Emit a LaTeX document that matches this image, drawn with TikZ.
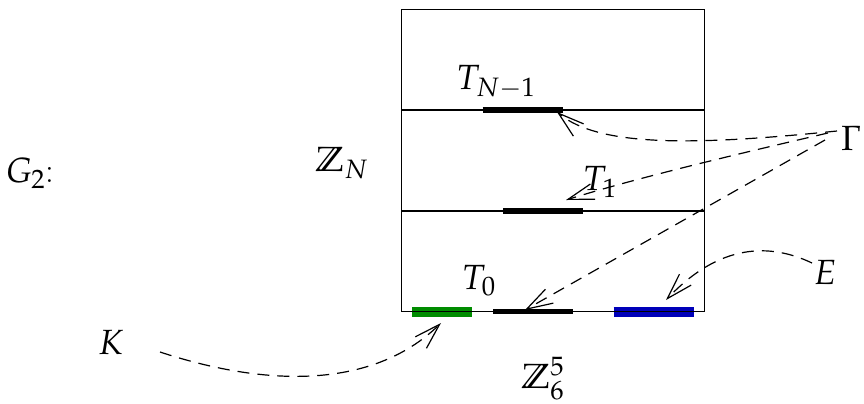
\documentclass[tikz,border=0pt]{standalone}
\usepackage{amssymb}
\usepackage{mathpazo}
\usetikzlibrary{arrows.meta}
\definecolor{bargreen}{RGB}{0,140,0}
\definecolor{barblue}{RGB}{0,0,185}
\begin{document}
\begin{tikzpicture}[x=0.5pt,y=-0.5pt,
  lbl/.style={inner sep=0pt,font=\fontsize{17.5}{20}\selectfont},
  frame/.style={line width=0.7pt},
  blackbar/.style={line width=2.6pt,black},
  greenbar/.style={line width=5pt,bargreen},
  bluebar/.style={line width=5pt,barblue},
  link/.style={line width=0.6pt,dash pattern=on 6pt off 4pt,
    -{Straight Barb[length=13pt,width=8pt,line width=0.6pt]}}]
\useasboundingbox (0,0) rectangle (864,403);
% bars
\draw[greenbar] (412,311.7) -- (472,311.7);
\draw[bluebar] (613.5,311.7) -- (694,311.7);
\draw[blackbar] (482.5,110) coordinate (tn1a) -- (562.5,110) coordinate (tn1b);
\draw[blackbar] (503,211) coordinate (t1a) -- (583,211) coordinate (t1b);
\draw[blackbar] (493,311.7) coordinate (t0a) -- (573,311.7) coordinate (t0b);
% frame
\draw[frame] (401.7,9.3) rectangle (704.3,311.7);
\draw[frame] (401.7,110) -- (704.3,110);
\draw[frame] (401.7,211) -- (704.3,211);
% labels
\node[lbl] (g2) at (30,173) {$G_2$:};
\node[lbl] (zn) at (342,163) {$\mathbb{Z}_N$};
\node[lbl] (tn) at (496,82) {$T_{N-1}$};
\node[lbl] (t1) at (600,182) {$T_1$};
\node[lbl] (t0) at (479,281) {$T_0$};
\node[lbl] (z6) at (543,379) {$\mathbb{Z}_6^5$};
\node[lbl] (gam) at (851,139) {$\Gamma$};
\node[lbl] (e) at (825,272) {$E$};
\node[lbl] (k) at (111,342) {$K$};
% connector ends
\coordinate (gs1) at (837,131);
\coordinate (gs2) at (828,133);
\coordinate (gs3) at (825,140);
\coordinate (es) at (812,263);
\coordinate (ks) at (160,352);
\coordinate (tnend) at (557,112);
\coordinate (t1end) at (566,200);
\coordinate (t0end) at (525,310);
\coordinate (blueend) at (666,300);
\coordinate (greenend) at (441,323);
% connectors
\draw[link] (gs1) .. controls (700,145) and (600,148) .. (tnend);
\draw[link] (gs2) .. controls (720,158) and (630,180) .. (t1end);
\draw[link] (gs3) -- (t0end);
\draw[link] (es) .. controls (770,243) and (720,243) .. (blueend);
\draw[link] (ks) .. controls (260,385) and (370,392) .. (greenend);
\end{tikzpicture}
\end{document}
